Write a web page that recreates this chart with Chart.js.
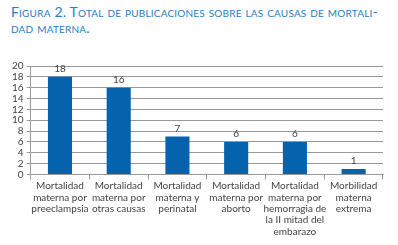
<!DOCTYPE html>
<html>
<head>
<meta charset="utf-8">
<script src="https://cdn.jsdelivr.net/npm/chart.js@4"></script>
<style>
  html, body { margin: 0; padding: 0; background: #fff; }
  #wrap { position: relative; width: 398px; height: 245px; overflow: hidden; }
  #title {
    position: absolute; left: 11px; top: 4px; width: 387px; white-space: nowrap;
    font-family: Lato, sans-serif; font-size: 14px; line-height: 15.5px;
    font-variant: small-caps; color: #2680c5; letter-spacing: 0.2px;
  }
  #box { position: absolute; left: 0; top: 0; width: 398px; height: 245px; }
</style>
</head>
<body>
<div id="wrap">
  <div id="title">Figura 2. Total de publicaciones sobre las causas de mortali-<br>dad materna.</div>
  <div id="box"><canvas id="chart_causas"></canvas></div>
</div>
<script>
var categorias = [
  ['Mortalidad', 'materna por', 'preeclampsia'],
  ['Mortalidad', 'materna por', 'otras causas'],
  ['Mortalidad', 'materna y', 'perinatal'],
  ['Mortalidad', 'materna por', 'aborto'],
  ['Mortalidad', 'materna por', 'hemorragia de', 'la II mitad del', 'embarazo'],
  ['Morbilidad', 'materna', 'extrema']
];
var publicaciones = [18, 16, 7, 6, 6, 1];
var yMin = 0, yMax = 20, yStep = 2;

var valueLabels = {
  id: 'valueLabels',
  afterDatasetsDraw: function(chart) {
    var ctx = chart.ctx;
    var meta = chart.getDatasetMeta(0);
    ctx.save();
    ctx.font = '10px Lato, sans-serif';
    ctx.fillStyle = '#444';
    ctx.textAlign = 'center';
    ctx.textBaseline = 'bottom';
    meta.data.forEach(function(bar, i) {
      ctx.fillText(publicaciones[i], bar.x, bar.y - 3);
    });
    ctx.restore();
  }
};

var chart_causas = new Chart(document.getElementById('chart_causas'), {
  type: 'bar',
  data: {
    labels: categorias,
    datasets: [{
      data: publicaciones,
      backgroundColor: '#0562ad',
      categoryPercentage: 1,
      barPercentage: 0.41
    }]
  },
  options: {
    animation: false,
    responsive: true,
    maintainAspectRatio: false,
    layout: { padding: { top: 66, right: 15, left: 9, bottom: 7 } },
    plugins: {
      legend: { display: false },
      tooltip: { enabled: false }
    },
    scales: {
      x: {
        grid: { offset: true, drawOnChartArea: false, tickLength: 5, color: '#999' },
        border: { color: '#999' },
        ticks: {
          autoSkip: false, maxRotation: 0, minRotation: 0, padding: 1,
          color: '#444', font: { family: 'Lato', size: 10, lineHeight: 1.13 }
        }
      },
      y: {
        min: yMin, max: yMax,
        grid: { color: '#999', tickLength: 4 },
        border: { color: '#999' },
        ticks: {
          stepSize: yStep, autoSkip: false, padding: 3,
          color: '#444', font: { family: 'Lato', size: 10 }
        }
      }
    }
  },
  plugins: [valueLabels]
});
</script>
</body>
</html>
